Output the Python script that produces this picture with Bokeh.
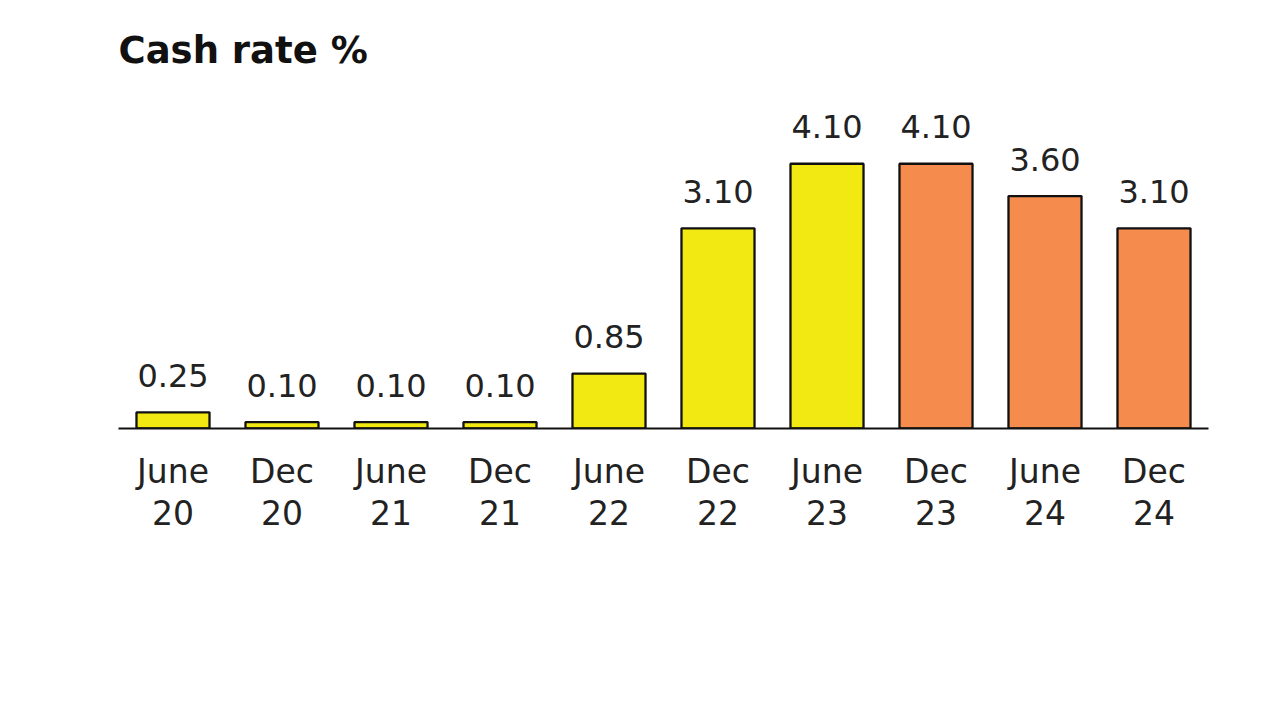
from bokeh.plotting import figure
from bokeh.models import ColumnDataSource, FactorRange, Range1d
from bokeh.transform import factor_cmap
from bokeh.core.properties import value
from bokeh.embed import file_html
from bokeh.resources import INLINE

# ---- data ----
periods = ["June\n20", "Dec\n20", "June\n21", "Dec\n21", "June\n22",
           "Dec\n22", "June\n23", "Dec\n23", "June\n24", "Dec\n24"]
cash_rate = [0.25, 0.10, 0.10, 0.10, 0.85, 3.10, 4.10, 4.10, 3.60, 3.10]
kind = ["actual"] * 7 + ["forecast"] * 3
kinds = ["actual", "forecast"]
kind_colors = ["#F2E812", "#F58C4E"]

labels = ["%.2f" % v for v in cash_rate]
src = ColumnDataSource(dict(period=periods, rate=cash_rate, kind=kind, label=labels))

FONT = "DejaVu Sans"

p = figure(
    x_range=FactorRange(*periods, range_padding=0),
    y_range=Range1d(0, 5.42),
    frame_width=1090, frame_height=350,
    output_backend="svg", toolbar_location=None,
    min_border_left=118, min_border_right=50, min_border_top=78,
    min_border_bottom=130,
    title="Cash rate %",
)
p.x_range.factor_padding = 0
p.title.text_font = FONT
p.title.text_font_size = "37px"
p.title.text_font_style = "bold"
p.title.text_color = "#111111"
p.title.align = "left"
p.title.offset = 0
p.title.standoff = 14

p.vbar(x="period", top="rate", width=0.67, source=src,
       fill_color=factor_cmap("kind", kind_colors, kinds),
       line_color="#111111", line_width=2.3)

p.text(x="period", y="rate", text="label", source=src,
       text_align="center", text_baseline="middle", y_offset=-37,
       text_font=value(FONT), text_font_size="32px", text_color="#222222")

p.yaxis.visible = False
p.xgrid.visible = False
p.ygrid.visible = False
p.outline_line_color = None

xa = p.xaxis[0]
xa.axis_line_color = "#111111"
xa.axis_line_width = 2
xa.major_tick_line_color = None
xa.minor_tick_line_color = None
xa.major_label_text_font = FONT
xa.major_label_text_font_size = "33px"
xa.major_label_text_color = "#222222"
xa.major_label_standoff = 17
xa.major_label_text_line_height = 1.08

open("out.html", "w").write(file_html(p, INLINE))
